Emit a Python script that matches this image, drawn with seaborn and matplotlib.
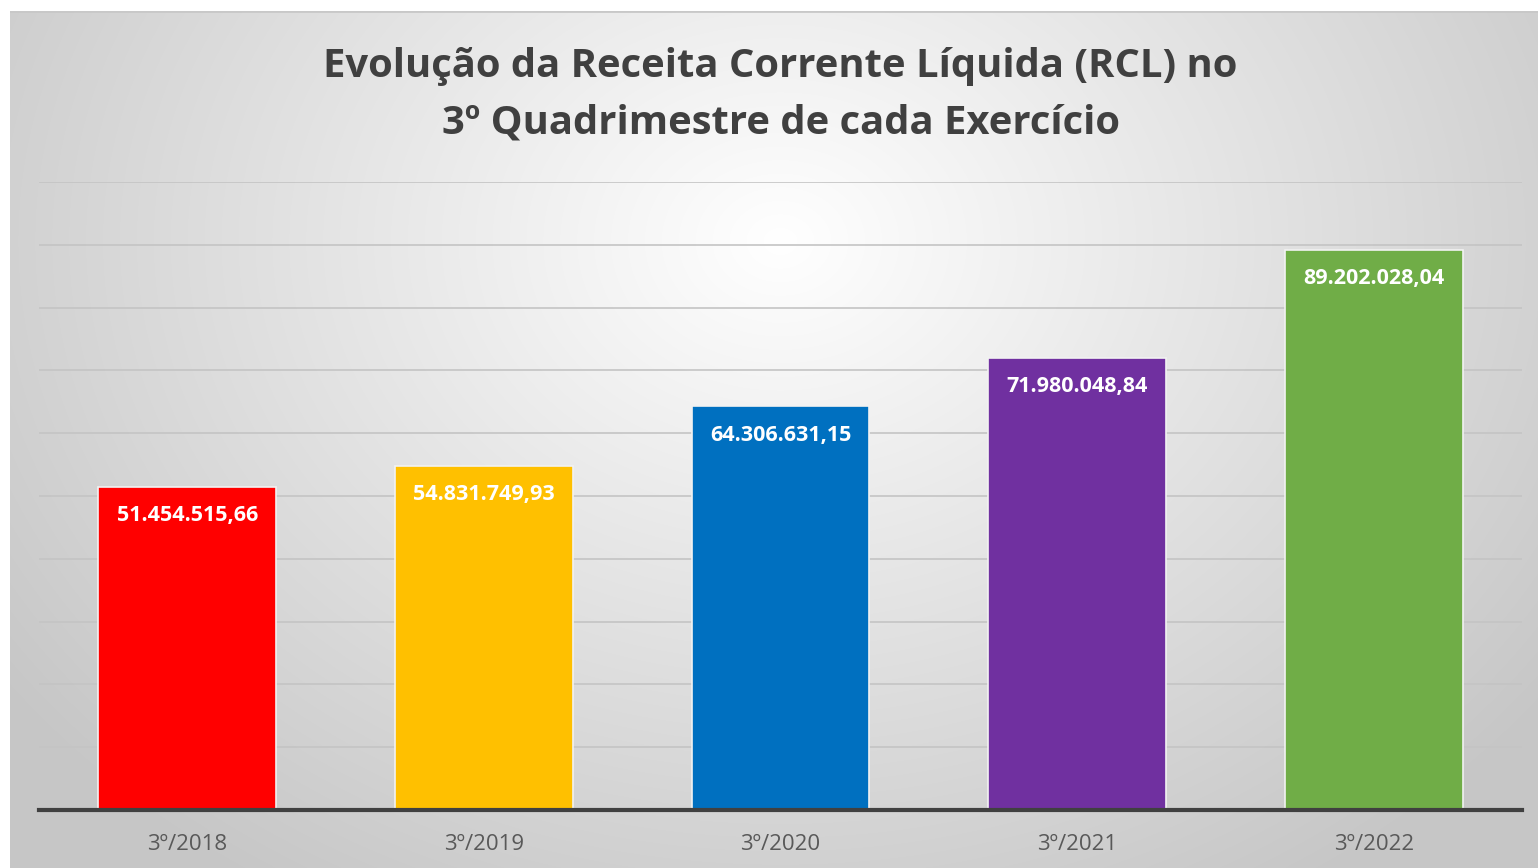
import numpy as np
import pandas as pd
import matplotlib
matplotlib.use("Agg")
import matplotlib.pyplot as plt
import seaborn as sns

categories = ["3º/2018", "3º/2019", "3º/2020", "3º/2021", "3º/2022"]
values = [51454515.66, 54831749.93, 64306631.15, 71980048.84, 89202028.04]
labels = ["51.454.515,66", "54.831.749,93", "64.306.631,15", "71.980.048,84", "89.202.028,04"]
colors = ["#FF0000", "#FFC000", "#0070C0", "#7030A0", "#70AD47"]
title = "Evolução da Receita Corrente Líquida (RCL) no\n3º Quadrimestre de cada Exercício"

sns.set_theme(style="white")
plt.rcParams['font.family'] = ['Open Sans', 'DejaVu Sans']

W, H = 1538, 868
fig = plt.figure(figsize=(W / 100, H / 100), dpi=100)
fig.patch.set_facecolor("white")

# background gradient panel
bg = fig.add_axes([10 / W, 0, 1 - 10 / W, 1 - 11 / H])
bg.set_axis_off()
yy, xx = np.mgrid[0:857, 0:1528]
cx, cy = 770, 230
d = np.sqrt(((xx - cx) / 1000.0) ** 2 + ((yy - cy) / 800.0) ** 2)
d = np.clip(d / 0.95, 0, 1)
val = 1.0 - d * (1.0 - 0.78)
img = np.dstack([val, val, val])
bg.imshow(img, aspect="auto", extent=[0, 1, 0, 1], origin="upper")
bg.plot([0, 1], [1, 1], color="#c8c8c8", lw=2, transform=bg.transAxes)

ax = fig.add_axes([39 / W, (H - 810) / H, (1522 - 39) / W, (810 - 182) / H])
ax.patch.set_alpha(0)

df = pd.DataFrame({"cat": categories, "val": values})
sns.barplot(data=df, x="cat", y="val", hue="cat", palette=colors, width=0.6,
            saturation=1, legend=False, ax=ax, edgecolor="#f2f2f2", linewidth=1.2, zorder=3)

ax.set_ylim(0, 100000000)
ax.set_yticks(np.arange(0, 100000001, 10000000))
ax.yaxis.grid(True, color="#c4c4c4", lw=1.2, zorder=0)
ax.set_axisbelow(True)
ax.set_yticklabels([])
ax.tick_params(axis="y", length=0)
ax.tick_params(axis="x", length=0, pad=17, labelsize=16, labelcolor="#595959")
ax.set_xlabel("")
ax.set_ylabel("")
for s in ["top", "right", "left"]:
    ax.spines[s].set_visible(False)
ax.spines["bottom"].set_color("#404040")
ax.spines["bottom"].set_linewidth(3)
ax.spines["bottom"].set_zorder(5)

for i, (v, lab) in enumerate(zip(values, labels)):
    ax.annotate(lab, (i, v), xytext=(0, -29), textcoords="offset pixels",
                ha="center", va="center", color="white", fontsize=15.5, fontweight="bold", zorder=6)

fig.text(0.5075, 1 - 95 / H, title, ha="center", va="center", fontsize=28.8,
         fontweight="bold", color="#404040", linespacing=1.6)

fig.savefig("out.png", dpi=100)
